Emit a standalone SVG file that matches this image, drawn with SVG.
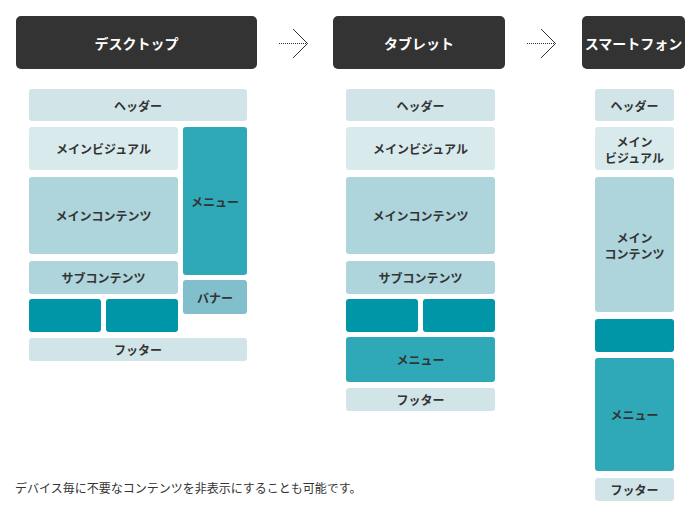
<svg xmlns="http://www.w3.org/2000/svg" width="700" height="520" viewBox="0 0 700 520">
<style>
.dev{fill:#333333}
.devt{font-family:"Noto Sans CJK JP","Noto Sans",sans-serif;font-size:14px;font-weight:bold;fill:#ffffff;text-anchor:middle;dominant-baseline:central}
.t{font-family:"Noto Sans CJK JP","Noto Sans",sans-serif;font-size:12px;font-weight:bold;fill:#333333;text-anchor:middle;dominant-baseline:central}
.hf{fill:#d1e5e9}
.mv{fill:#d9eaed}
.mc{fill:#aed4dc}
.mn{fill:#2fa9b8}
.bn{fill:#80bfcb}
.sm{fill:#0096a8}
.note{font-family:"Noto Sans CJK JP","Noto Sans",sans-serif;font-size:12px;fill:#333333}
</style>
<rect width="700" height="520" fill="#ffffff"/>
<g id="connectors" fill="none" stroke="#333333" stroke-width="1">
<line x1="279" y1="43.5" x2="307" y2="43.5" stroke-dasharray="1 1"/>
<polyline points="293,29 307.5,43.5 293,58"/>
<line x1="527" y1="43.5" x2="555" y2="43.5" stroke-dasharray="1 1"/>
<polyline points="541,29 555.5,43.5 541,58"/>
</g>
<g id="desktop">
<rect class="dev" x="16" y="16" width="241" height="53" rx="5"/>
<text class="devt" x="136.5" y="42.5">デスクトップ</text>
</g>
<g id="tablet">
<rect class="dev" x="333" y="16" width="172" height="53" rx="5"/>
<text class="devt" x="419" y="42.5">タブレット</text>
</g>
<g id="smartphone">
<rect class="dev" x="582" y="16" width="103" height="53" rx="5"/>
<text class="devt" x="633.5" y="42.5" font-size="13">スマートフォン</text>
</g>
<g id="d-header"><rect class="hf" x="29" y="89" width="218" height="32" rx="3"/><text class="t" x="138" y="105">ヘッダー</text></g>
<g id="d-visual"><rect class="mv" x="29" y="127" width="149" height="43" rx="3"/><text class="t" x="103.5" y="148.5">メインビジュアル</text></g>
<g id="d-menu"><rect class="mn" x="183" y="127" width="64" height="148" rx="3"/><text class="t" x="215" y="201">メニュー</text></g>
<g id="d-main"><rect class="mc" x="29" y="177" width="149" height="77" rx="3"/><text class="t" x="103.5" y="215.5">メインコンテンツ</text></g>
<g id="d-sub"><rect class="mc" x="29" y="261" width="149" height="33" rx="3"/><text class="t" x="103.5" y="277.5">サブコンテンツ</text></g>
<g id="d-banner"><rect class="bn" x="183" y="280" width="64" height="34" rx="3"/><text class="t" x="215" y="297">バナー</text></g>
<g id="d-box1"><rect class="sm" x="29" y="299" width="72" height="33" rx="3"/></g>
<g id="d-box2"><rect class="sm" x="106" y="299" width="72" height="33" rx="3"/></g>
<g id="d-footer"><rect class="hf" x="29" y="338" width="218" height="23" rx="3"/><text class="t" x="138" y="349.5">フッター</text></g>
<g id="t-header"><rect class="hf" x="346" y="89" width="149" height="32" rx="3"/><text class="t" x="420.5" y="105">ヘッダー</text></g>
<g id="t-visual"><rect class="mv" x="346" y="127" width="149" height="43" rx="3"/><text class="t" x="420.5" y="148.5">メインビジュアル</text></g>
<g id="t-main"><rect class="mc" x="346" y="177" width="149" height="77" rx="3"/><text class="t" x="420.5" y="215.5">メインコンテンツ</text></g>
<g id="t-sub"><rect class="mc" x="346" y="261" width="149" height="33" rx="3"/><text class="t" x="420.5" y="277.5">サブコンテンツ</text></g>
<g id="t-box1"><rect class="sm" x="346" y="299" width="72" height="33" rx="3"/></g>
<g id="t-box2"><rect class="sm" x="423" y="299" width="72" height="33" rx="3"/></g>
<g id="t-menu"><rect class="mn" x="346" y="337" width="149" height="45" rx="3"/><text class="t" x="420.5" y="359.5">メニュー</text></g>
<g id="t-footer"><rect class="hf" x="346" y="388" width="149" height="23" rx="3"/><text class="t" x="420.5" y="399.5">フッター</text></g>
<g id="s-header"><rect class="hf" x="595" y="89" width="79" height="32" rx="3"/><text class="t" x="634.5" y="105">ヘッダー</text></g>
<g id="s-visual"><rect class="mv" x="595" y="127" width="79" height="43" rx="3"/><text class="t" x="634.5" y="141">メイン</text><text class="t" x="634.5" y="157">ビジュアル</text></g>
<g id="s-main"><rect class="mc" x="595" y="177" width="79" height="135" rx="3"/><text class="t" x="634.5" y="237">メイン</text><text class="t" x="634.5" y="253">コンテンツ</text></g>
<g id="s-box"><rect class="sm" x="595" y="319" width="79" height="33" rx="3"/></g>
<g id="s-menu"><rect class="mn" x="595" y="358" width="79" height="113" rx="3"/><text class="t" x="634.5" y="414.5">メニュー</text></g>
<g id="s-footer"><rect class="hf" x="595" y="478" width="79" height="23" rx="3"/><text class="t" x="634.5" y="489.5">フッター</text></g>
<text class="note" x="15" y="493">デバイス毎に不要なコンテンツを非表示にすることも可能です。</text>
</svg>
